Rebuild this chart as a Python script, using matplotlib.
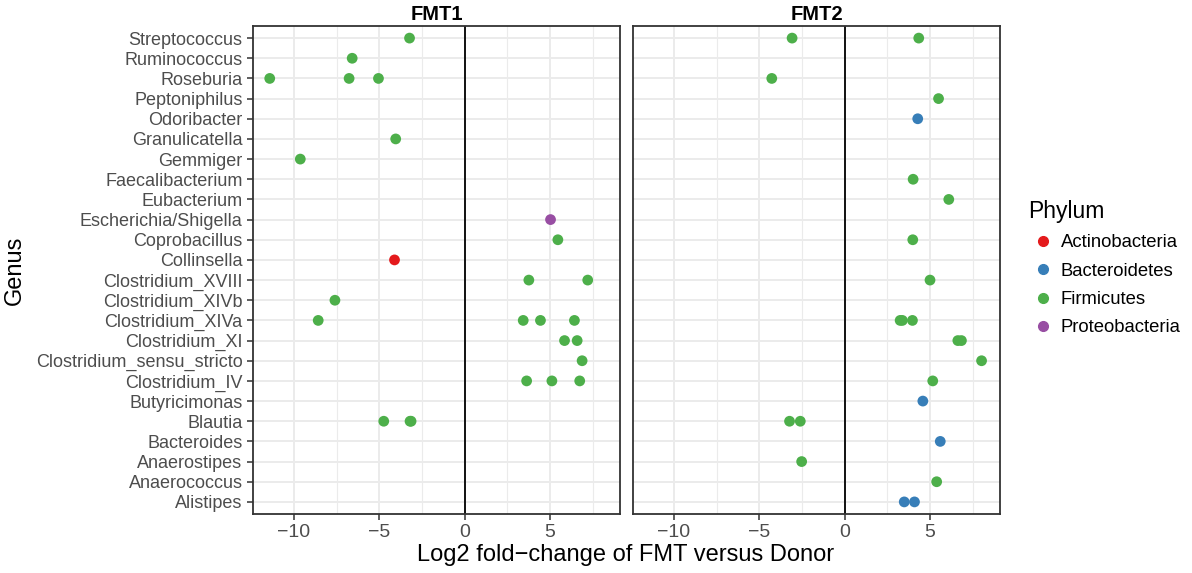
import numpy as np
import matplotlib
matplotlib.use("Agg")
import matplotlib.pyplot as plt
from matplotlib.lines import Line2D

plt.rcParams['font.family'] = ['Liberation Sans', 'DejaVu Sans']

# genus order, top to bottom
genera = ["Streptococcus", "Ruminococcus", "Roseburia", "Peptoniphilus", "Odoribacter",
          "Granulicatella", "Gemmiger", "Faecalibacterium", "Eubacterium",
          "Escherichia/Shigella", "Coprobacillus", "Collinsella", "Clostridium_XVIII",
          "Clostridium_XIVb", "Clostridium_XIVa", "Clostridium_XI",
          "Clostridium_sensu_stricto", "Clostridium_IV", "Butyricimonas", "Blautia",
          "Bacteroides", "Anaerostipes", "Anaerococcus", "Alistipes"]

phyla = ["Actinobacteria", "Bacteroidetes", "Firmicutes", "Proteobacteria"]
phylum_colors = {"Actinobacteria": "#E41A1C", "Bacteroidetes": "#377EB8",
                 "Firmicutes": "#4DAF4A", "Proteobacteria": "#984EA3"}

# FMT1 points: genus, log2 fold change, phylum
fmt1_genus = ["Streptococcus", "Ruminococcus", "Roseburia", "Roseburia", "Roseburia",
              "Granulicatella", "Gemmiger", "Escherichia/Shigella", "Coprobacillus",
              "Collinsella", "Clostridium_XVIII", "Clostridium_XVIII", "Clostridium_XIVb",
              "Clostridium_XIVa", "Clostridium_XIVa", "Clostridium_XIVa", "Clostridium_XIVa",
              "Clostridium_XI", "Clostridium_XI", "Clostridium_sensu_stricto",
              "Clostridium_IV", "Clostridium_IV", "Clostridium_IV",
              "Blautia", "Blautia", "Blautia"]
fmt1_lfc = [-3.23, -6.59, -11.42, -6.77, -5.05,
            -4.04, -9.63, 5.03, 5.46,
            -4.11, 3.76, 7.21, -7.6,
            -8.58, 3.43, 4.44, 6.43,
            5.85, 6.59, 6.88,
            3.63, 5.11, 6.74,
            -4.74, -3.2, -3.14]
fmt1_phylum = ["Firmicutes"] * 7 + ["Proteobacteria", "Firmicutes", "Actinobacteria"] + \
              ["Firmicutes"] * 16

# FMT2 points
fmt2_genus = ["Streptococcus", "Streptococcus", "Roseburia", "Peptoniphilus", "Odoribacter",
              "Faecalibacterium", "Eubacterium", "Coprobacillus", "Clostridium_XVIII",
              "Clostridium_XIVa", "Clostridium_XIVa", "Clostridium_XIVa",
              "Clostridium_XI", "Clostridium_XI", "Clostridium_sensu_stricto",
              "Clostridium_IV", "Butyricimonas", "Blautia", "Blautia", "Bacteroides",
              "Anaerostipes", "Anaerococcus", "Alistipes", "Alistipes"]
fmt2_lfc = [-3.08, 4.34, -4.27, 5.5, 4.28,
            4.01, 6.1, 3.99, 5.0,
            3.25, 3.38, 3.97,
            6.63, 6.84, 8.02,
            5.16, 4.58, -3.23, -2.6, 5.6,
            -2.52, 5.39, 3.49, 4.09]
fmt2_phylum = ["Firmicutes", "Firmicutes", "Firmicutes", "Firmicutes", "Bacteroidetes",
               "Firmicutes", "Firmicutes", "Firmicutes", "Firmicutes",
               "Firmicutes", "Firmicutes", "Firmicutes",
               "Firmicutes", "Firmicutes", "Firmicutes",
               "Firmicutes", "Bacteroidetes", "Firmicutes", "Firmicutes", "Bacteroidetes",
               "Firmicutes", "Firmicutes", "Bacteroidetes", "Bacteroidetes"]

panels = [("FMT1", fmt1_genus, fmt1_lfc, fmt1_phylum),
          ("FMT2", fmt2_genus, fmt2_lfc, fmt2_phylum)]

ypos = {g: len(genera) - 1 - i for i, g in enumerate(genera)}

fig = plt.figure(figsize=(11.92, 5.73), dpi=100)
ax1 = fig.add_axes([253 / 1192, 1 - 514 / 573, 367 / 1192, 488 / 573])
ax2 = fig.add_axes([633 / 1192, 1 - 514 / 573, 367 / 1192, 488 / 573], sharey=ax1)

for ax, (title, gen, lfc, phy) in zip([ax1, ax2], panels):
    ax.set_facecolor("white")
    for v in np.arange(-12.5, 10, 2.5):
        major = (v % 5 == 0)
        ax.axvline(v, color="#EBEBEB", lw=1.4 if major else 0.8, zorder=0)
    for y in range(len(genera)):
        ax.axhline(y, color="#EBEBEB", lw=1.4, zorder=0)
    ax.axvline(0, color="black", lw=1.3, zorder=1)
    ys = [ypos[g] for g in gen]
    cs = [phylum_colors[p] for p in phy]
    ax.scatter(lfc, ys, c=cs, s=60, zorder=3, linewidths=0)
    ax.set_xlim(-12.4, 9.1)
    ax.set_ylim(-0.6, len(genera) - 0.4)
    ax.set_xticks([-10, -5, 0, 5])
    ax.set_xticklabels(["\u221210", "\u22125", "0", "5"])
    for s in ax.spines.values():
        s.set_color("#333333")
        s.set_linewidth(1.3)
    ax.tick_params(axis="both", colors="#333333", labelcolor="#4D4D4D",
                   labelsize=13, length=4, width=1.1)
    ax.tick_params(axis="x", labelsize=14, pad=3)
    ax.set_title(title, fontsize=14.5, fontweight="bold", pad=4)

ax1.set_yticks(range(len(genera)))
ax1.set_yticklabels(genera[::-1])
ax2.tick_params(axis="y", left=False, labelleft=False)
ax1.set_ylabel("Genus", fontsize=17, labelpad=7)

fig.text(626 / 1192, 1 - 555 / 573, "Log2 fold\u2212change of FMT versus Donor",
         ha="center", va="center", fontsize=17)

handles = [Line2D([], [], marker="o", ls="", color=phylum_colors[p], markersize=7)
           for p in phyla]
fig.legend(handles, phyla, title="Phylum", loc="upper left",
           bbox_to_anchor=(1012 / 1192, 1 - 183 / 573), frameon=False,
           fontsize=13.3, title_fontsize=16.5, handletextpad=0.15, labelspacing=0.62,
           handlelength=1.6, alignment="left")

fig.savefig("out.png", dpi=100)
